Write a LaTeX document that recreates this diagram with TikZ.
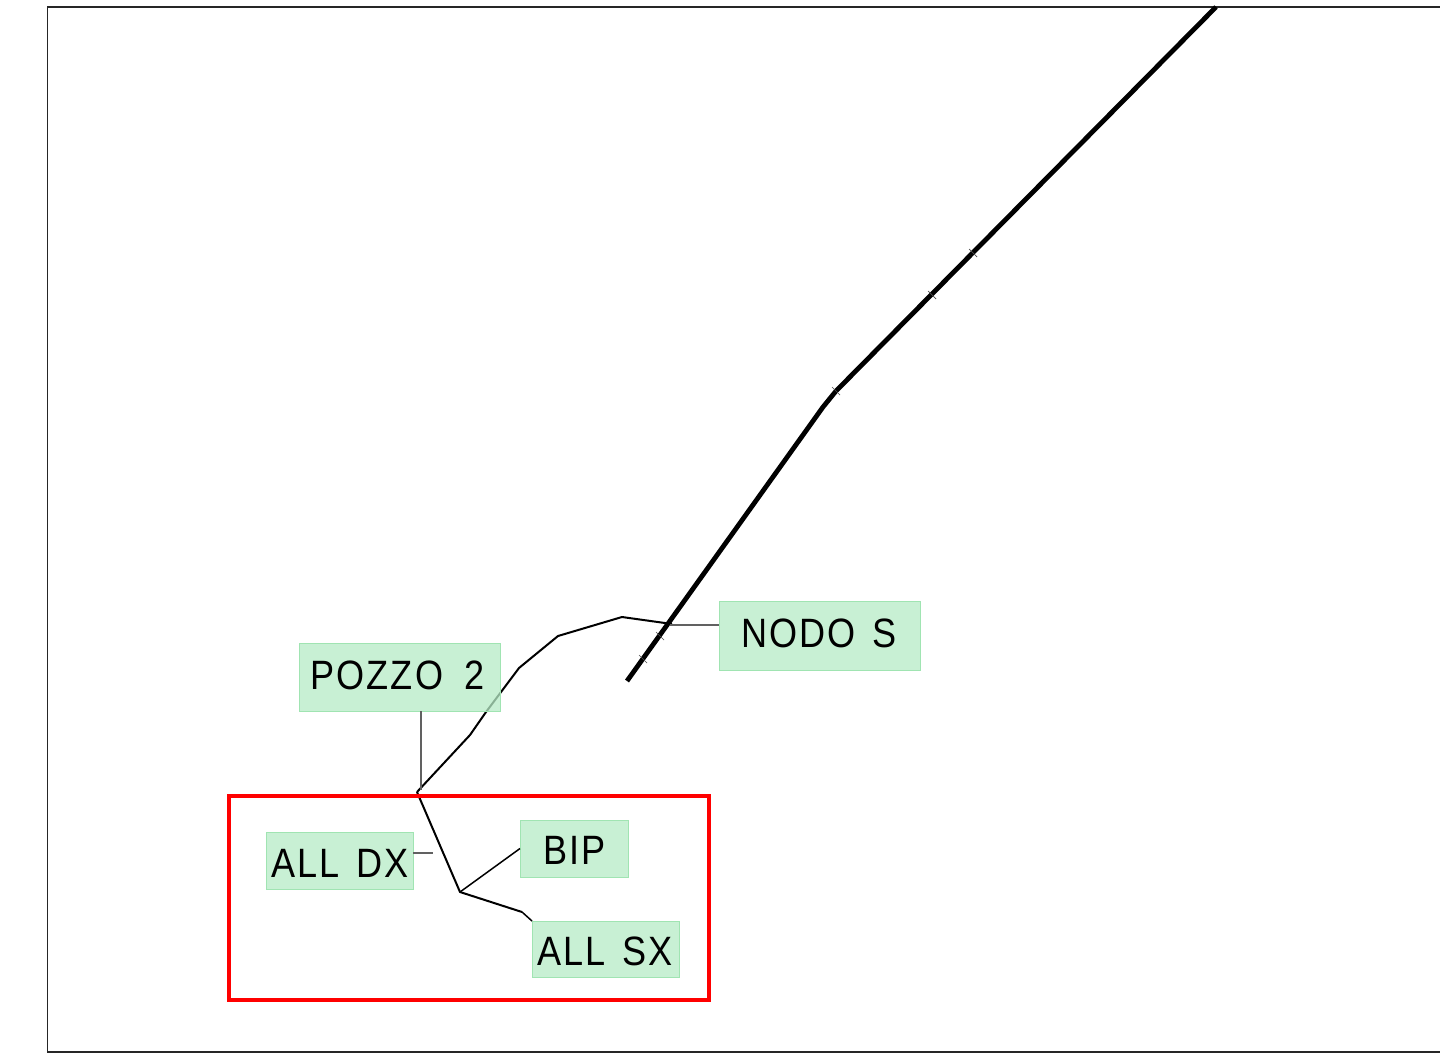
\documentclass[tikz,border=0pt]{standalone}
\usepackage{fontspec}
\newfontfamily\cadfont[FakeStretch=0.88,LetterSpace=5.5,WordSpace=1.2]{Liberation Sans}
\definecolor{boxfill}{RGB}{182,236,198}
\definecolor{boxline}{RGB}{160,228,178}
\tikzset{
  tag/.style={draw=boxline,line width=1pt,fill=boxfill,fill opacity=.75,draw opacity=1,text opacity=1,inner sep=0pt,outer sep=0pt,anchor=north west,font=\fontsize{41}{43}\cadfont,text=black},
  wire/.style={draw=black,line width=2pt,line join=round},
  leader/.style={draw=black!62,line width=1.2pt},
  trunk/.style={draw=black,line width=4.8pt,line join=round},
  tick/.style={draw=black!70,line width=.7pt},
  frame/.style={draw=black!85,line width=1.2pt},
  zone/.style={draw=red,line width=4.8pt,line join=miter}
}
\newcommand{\taglabel}[2]{\makebox[#1][l]{#2}}
\begin{document}
\begin{tikzpicture}[x=1pt,y=-1pt]
\useasboundingbox (0,0) rectangle (1440,1055);
\clip (0,0) rectangle (1440,1055);
\fill[white] (0,0) rectangle (1440,1055);
\draw[frame] (1441,7) -- (47.5,7) -- (47.5,1052) -- (1441,1052);
% trunk
\coordinate (t0) at (627,681);
\coordinate (t1) at (823,407);
\coordinate (t2) at (836,391);
\coordinate (t3) at (1216,7);
\draw[trunk] (t0) -- (t1) -- (t2) -- (t3);
\foreach \x/\y in {643/659,660/636,836/391,932/295,973/253}{
  \draw[tick] (\x-4,\y-4) -- (\x+4,\y+4);
}
% wire
\coordinate (w0) at (417,792);
\coordinate (w1) at (470,735);
\coordinate (w2) at (486,712);
\coordinate (w3) at (519,668);
\coordinate (w4) at (558,636);
\coordinate (w5) at (622,617);
\coordinate (w6) at (672,624);
\coordinate (fork) at (460,892);
\coordinate (bend) at (522,912);
\coordinate (jp) at (421,790);
\coordinate (jn) at (670,625);
\coordinate (jd) at (433,853);
\draw[wire] (w0) -- (w1) -- (w2) -- (w3) -- (w4) -- (w5) -- (w6);
\draw[wire] (w0) -- (fork) -- (bend);
% zone
\draw[zone] (229,796) rectangle (709,1000);
% tags
\node[tag,minimum width=201pt,minimum height=68pt,text height=46pt,text depth=22pt] (pozzo) at (299,643) {\taglabel{201pt}{\hspace*{11pt}POZZO\hspace{6.5pt} 2}};
\node[tag,minimum width=201pt,minimum height=69pt,text height=46pt,text depth=23pt] (nodo) at (719,601) {\taglabel{201pt}{\hspace*{22pt}NODO\hspace{2pt} S}};
\node[tag,minimum width=147pt,minimum height=57pt,text height=45pt,text depth=12pt] (alldx) at (266,832) {\taglabel{147pt}{\hspace*{5pt}ALL\hspace{2pt} DX}};
\node[tag,minimum width=108pt,minimum height=57pt,text height=44pt,text depth=13pt] (bip) at (520,820) {\taglabel{108pt}{\hspace*{23pt}BIP}};
\node[tag,minimum width=147pt,minimum height=56pt,text height=44pt,text depth=12pt] (allsx) at (532,921) {\taglabel{147pt}{\hspace*{5pt}ALL\hspace{2pt} SX}};
% leaders
\draw[leader] (pozzo.south -| jp) -- (jp);
\draw[leader] (jn) -- (nodo.west |- jn);
\draw[leader] (alldx.east |- jd) -- (jd);
\draw[wire,line width=1.5pt] (fork) -- (bip.west);
\draw[wire,line width=1.5pt] (bend) -- (allsx.north west);
\end{tikzpicture}
\end{document}
